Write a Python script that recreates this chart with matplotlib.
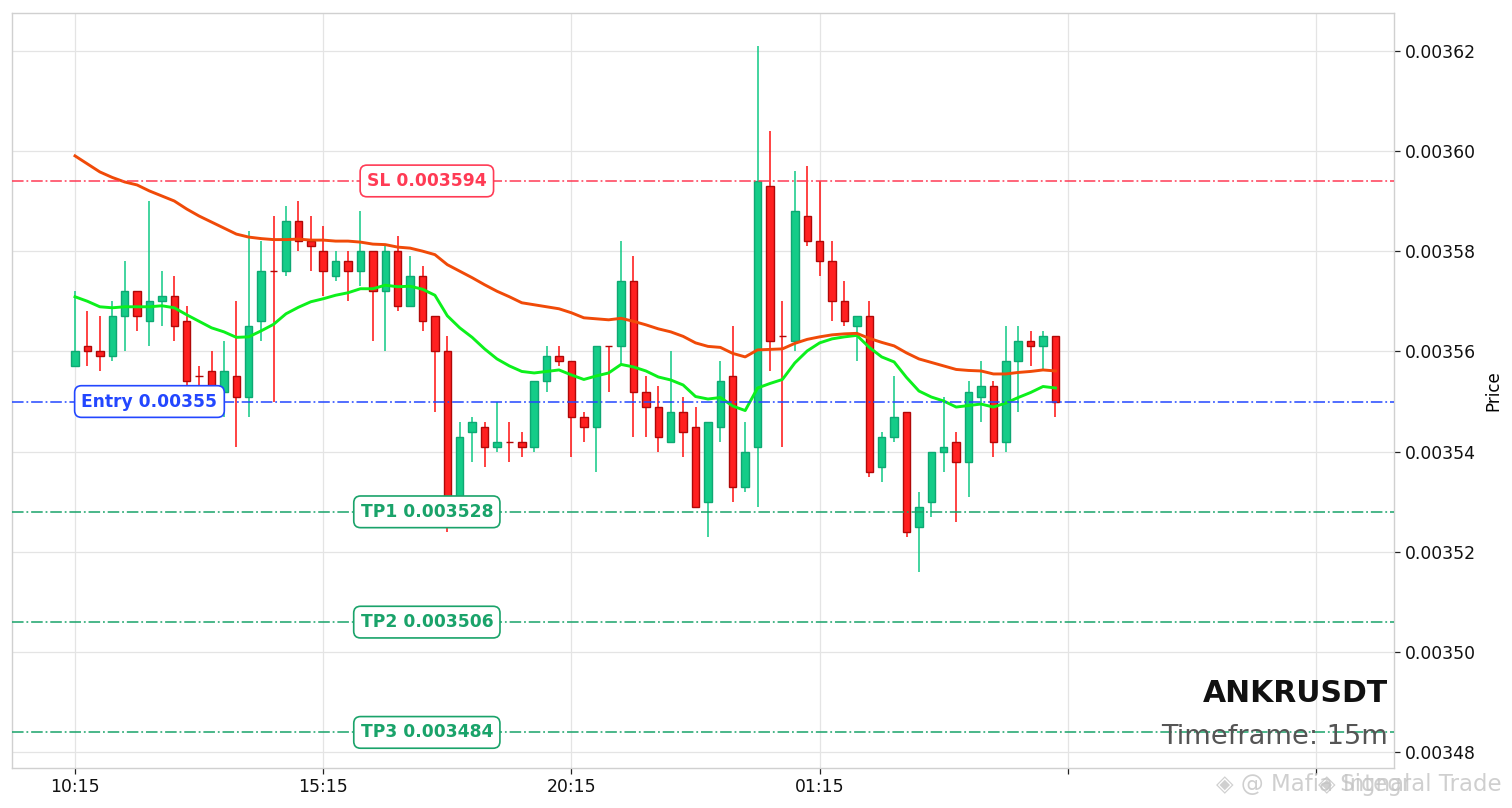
import numpy as np
import matplotlib
matplotlib.use("Agg")
import matplotlib.pyplot as plt

# prices in millionths (3557 = 0.003557)
opens = [3557, 3561, 3560, 3559, 3567, 3572, 3566, 3570, 3571, 3566,
         3555, 3556, 3552, 3555, 3551, 3566, 3576, 3576, 3586, 3582,
         3580, 3575, 3578, 3576, 3580, 3572, 3580, 3569, 3575, 3567,
         3560, 3529, 3544, 3545, 3541, 3542, 3542, 3541, 3554, 3559,
         3558, 3547, 3545, 3561, 3561, 3574, 3552, 3549, 3542, 3548,
         3545, 3530, 3545, 3555, 3533, 3541, 3593, 3563, 3562, 3587,
         3582, 3578, 3570, 3565, 3567, 3537, 3543, 3548, 3525, 3530,
         3540, 3542, 3538, 3551, 3553, 3542, 3558, 3562, 3561, 3563]
highs = [3572, 3568, 3567, 3570, 3578, 3572, 3590, 3576, 3575, 3569,
         3557, 3560, 3562, 3570, 3584, 3582, 3587, 3589, 3590, 3587,
         3585, 3580, 3580, 3588, 3580, 3581, 3583, 3579, 3577, 3567,
         3563, 3546, 3547, 3546, 3550, 3546, 3544, 3554, 3561, 3561,
         3558, 3548, 3561, 3561, 3582, 3579, 3555, 3553, 3560, 3551,
         3549, 3546, 3558, 3565, 3546, 3621, 3604, 3570, 3596, 3597,
         3594, 3582, 3574, 3567, 3570, 3544, 3555, 3548, 3532, 3540,
         3551, 3544, 3554, 3558, 3554, 3565, 3565, 3564, 3564, 3563]
lows = [3557, 3557, 3556, 3558, 3560, 3564, 3561, 3565, 3562, 3553,
        3553, 3552, 3547, 3541, 3547, 3562, 3550, 3575, 3580, 3576,
        3571, 3574, 3570, 3573, 3562, 3560, 3568, 3569, 3564, 3548,
        3524, 3525, 3538, 3537, 3540, 3538, 3539, 3540, 3552, 3557,
        3539, 3542, 3536, 3552, 3557, 3543, 3543, 3540, 3542, 3539,
        3529, 3523, 3542, 3530, 3532, 3529, 3556, 3541, 3560, 3581,
        3575, 3566, 3565, 3558, 3535, 3534, 3542, 3523, 3516, 3527,
        3536, 3526, 3531, 3546, 3539, 3540, 3548, 3557, 3556, 3547]
closes = [3560, 3560, 3559, 3567, 3572, 3567, 3570, 3571, 3565, 3554,
          3555, 3553, 3556, 3551, 3565, 3576, 3576, 3586, 3582, 3581,
          3576, 3578, 3576, 3580, 3572, 3580, 3569, 3575, 3566, 3560,
          3530, 3543, 3546, 3541, 3542, 3542, 3541, 3554, 3559, 3558,
          3547, 3545, 3561, 3561, 3574, 3552, 3549, 3543, 3548, 3544,
          3529, 3546, 3554, 3533, 3540, 3594, 3562, 3563, 3588, 3582,
          3578, 3570, 3566, 3567, 3536, 3543, 3547, 3524, 3529, 3540,
          3541, 3538, 3552, 3553, 3542, 3558, 3562, 3561, 3563, 3550]
ema_fast = [3570.9, 3570.0, 3568.9, 3568.7, 3568.9, 3568.9, 3568.9, 3569.1, 3568.7, 3567.3,
            3566.0, 3564.7, 3563.9, 3562.8, 3562.9, 3564.1, 3565.4, 3567.5, 3568.8, 3569.9,
            3570.5, 3571.2, 3571.7, 3572.5, 3572.5, 3573.2, 3572.9, 3573.0, 3572.4, 3571.2,
            3567.1, 3564.7, 3562.8, 3560.5, 3558.5, 3557.1, 3556.0, 3555.7, 3556.0, 3556.3,
            3555.3, 3554.4, 3555.1, 3555.7, 3557.4, 3556.9, 3556.1, 3554.9, 3554.3, 3553.3,
            3551.0, 3550.5, 3550.8, 3549.1, 3548.2, 3552.7, 3553.6, 3554.4, 3557.7, 3560.1,
            3561.7, 3562.5, 3562.9, 3563.2, 3560.8, 3558.9, 3557.9, 3554.8, 3552.1, 3550.9,
            3550.1, 3548.9, 3549.2, 3549.5, 3548.9, 3549.7, 3550.8, 3551.8, 3553.0, 3552.7]
ema_slow = [3599.0, 3597.4, 3595.8, 3594.7, 3593.8, 3593.2, 3592.0, 3591.0, 3590.0, 3588.4,
            3587.0, 3585.8, 3584.6, 3583.4, 3582.8, 3582.5, 3582.3, 3582.3, 3582.4, 3582.2,
            3582.2, 3582.0, 3582.0, 3581.8, 3581.4, 3581.3, 3580.8, 3580.6, 3580.0, 3579.3,
            3577.3, 3576.0, 3574.7, 3573.3, 3572.0, 3570.9, 3569.7, 3569.3, 3568.9, 3568.5,
            3567.7, 3566.7, 3566.5, 3566.3, 3566.6, 3566.0, 3565.3, 3564.5, 3563.9, 3563.0,
            3561.7, 3561.0, 3560.8, 3559.6, 3558.9, 3560.3, 3560.4, 3560.5, 3561.6, 3562.4,
            3562.9, 3563.3, 3563.5, 3563.6, 3562.6, 3561.8, 3561.1, 3559.7, 3558.5, 3557.8,
            3557.1, 3556.4, 3556.2, 3556.1, 3555.5, 3555.5, 3555.8, 3556.0, 3556.3, 3556.1]

tick_pos = [0, 20, 40, 60, 80, 100]
tick_labels = ["10:15", "15:15", "20:15", "01:15", "", ""]
y_ticks = [0.00348, 0.00350, 0.00352, 0.00354, 0.00356, 0.00358, 0.00360, 0.00362]

levels = [("SL 0.003594", 0.003594, "#ff3b55", 28.35),
          ("Entry 0.00355", 0.00355, "#2347ff", 6),
          ("TP1 0.003528", 0.003528, "#1aa36a", 28.35),
          ("TP2 0.003506", 0.003506, "#1aa36a", 28.35),
          ("TP3 0.003484", 0.003484, "#1aa36a", 28.35)]

o = np.array(opens) * 1e-6
h = np.array(highs) * 1e-6
l = np.array(lows) * 1e-6
c = np.array(closes) * 1e-6
x = np.arange(len(o))
up = c >= o
# the dojis print as red in the source
up[[10, 16, 35, 43, 57]] = False

W, H = 1512, 808
fig = plt.figure(figsize=(W / 100, H / 100), dpi=100)
ax = fig.add_axes([12 / W, 1 - 768 / H, (1394 - 12) / W, (768 - 13) / H])

ax.vlines(x[up], l[up], h[up], color="#10c985", lw=1.1, zorder=2)
ax.vlines(x[~up], l[~up], h[~up], color="#ff0f0f", lw=1.1, zorder=2)
ax.bar(x[up], (c - o)[up], bottom=o[up], width=0.6, color="#14cc88", edgecolor="#0ea873", lw=1.0, zorder=3)
ax.bar(x[~up], (c - o)[~up], bottom=o[~up], width=0.6, color="#ff2020", edgecolor="#b00808", lw=1.0, zorder=3)

ax.plot(x, np.array(ema_fast) * 1e-6, color="#0cf01c", lw=2.1, zorder=4)
ax.plot(x, np.array(ema_slow) * 1e-6, color="#f04a08", lw=2.1, zorder=4)

for text, price, col, pos in levels:
    ax.axhline(price, color=col, ls="-.", lw=1.3, alpha=0.85, zorder=5)
    ax.text(pos, price, text, color=col, fontsize=12.3, fontweight="bold", ha="center", va="center", zorder=7,
            bbox=dict(boxstyle="round,pad=0.4", fc="white", ec=col, lw=1.2))

ax.set_xlim(-5.077, 106.28)
ax.set_ylim(0.0034769, 0.0036275)
ax.set_xticks(tick_pos)
ax.set_xticklabels(tick_labels)
ax.set_yticks(y_ticks)
ax.set_yticklabels(["%.5f" % v for v in y_ticks])
ax.yaxis.tick_right()
ax.yaxis.set_label_position("right")
ax.set_ylabel("Price", fontsize=12, labelpad=6)
ax.tick_params(axis="both", labelsize=12.4, length=4, width=0.9, color="#222222", labelcolor="#111111")
ax.grid(True, color="#e4e4e4", lw=0.9)
ax.set_axisbelow(True)
for s in ax.spines.values():
    s.set_color("#d0d0d0")
    s.set_linewidth(1.0)

ax.text(0.9957, 0.0985, "ANKRUSDT", transform=ax.transAxes, ha="right", va="center", fontsize=21.5, fontweight="bold", color="#111111", zorder=8)
ax.text(0.9957, 0.0415, "Timeframe: 15m", transform=ax.transAxes, ha="right", va="center", fontsize=19.6, color="#555555", zorder=8)

# faint overlapping watermarks under the chart
fig.text(1216 / W, 1 - 785 / H, "\u25c8 @ Mafia Signal", fontsize=16.5, color="#c4c4c4", alpha=0.8, va="center")
fig.text(1318 / W, 1 - 785 / H, "\u25c8 Integral Trade", fontsize=16.5, color="#c4c4c4", alpha=0.8, va="center")

fig.savefig("out.png", dpi=100)
